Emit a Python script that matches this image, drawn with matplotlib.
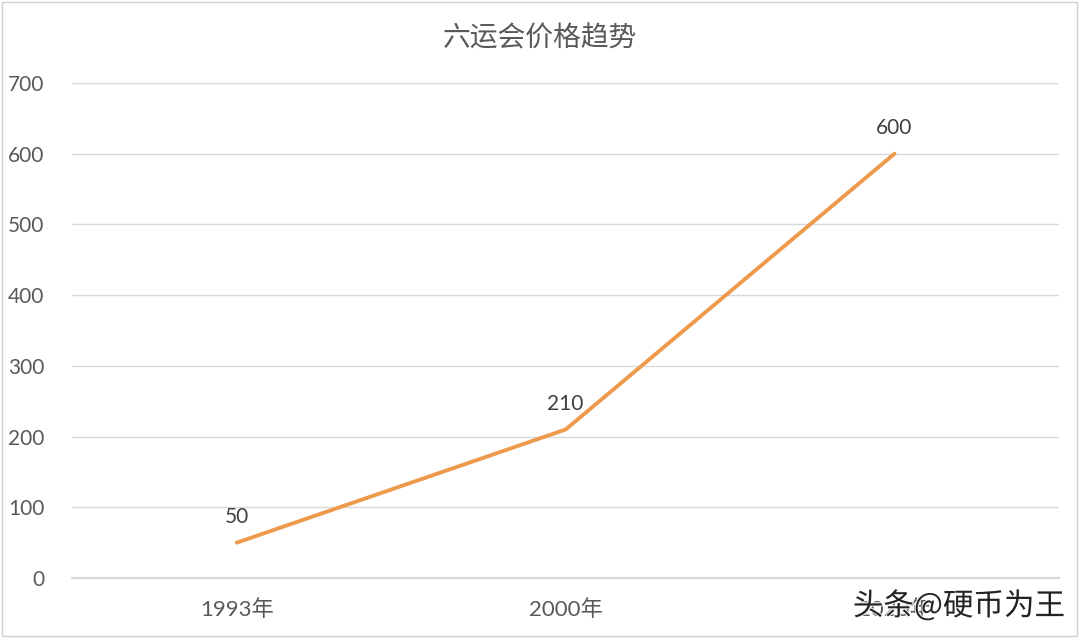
import matplotlib.pyplot as plt
import matplotlib.patheffects as pe
from matplotlib.patches import Rectangle

plt.rcParams['font.family'] = ['Lato', 'Noto Sans CJK SC', 'DejaVu Sans']

years = ["1993年", "2000年", "2020年"]
prices = [50, 210, 600]
yticks = [0, 100, 200, 300, 400, 500, 600, 700]

fig = plt.figure(figsize=(10.8, 6.38), dpi=100)
ax = fig.add_axes([0.067, 0.094, 0.9135, 0.776])

x = list(range(len(years)))
ax.plot(x, prices, color="#EE9A4D", linewidth=2.8, solid_capstyle="round", zorder=3)

for xi, v in zip(x, prices):
    ax.annotate(str(v), (xi, v), xytext=(0, 11), textcoords="offset points",
                ha="center", va="bottom", fontsize=15, color="#404040")

ax.set_xlim(-0.5, 2.5)
ax.set_ylim(0, 700)
ax.set_yticks(yticks)
ax.set_xticks(x)
ax.set_xticklabels(years)
ax.tick_params(axis="both", length=0, colors="#595959")
ax.tick_params(axis="y", pad=20, labelsize=15)
ax.tick_params(axis="x", pad=15, labelsize=16)
ax.grid(axis="y", color="#D9D9D9", linewidth=1)
ax.axhline(0, color="#D9D9D9", linewidth=1.5, clip_on=False, zorder=1)
ax.set_axisbelow(True)
for s in ax.spines.values():
    s.set_visible(False)

fig.text(0.5, 0.94, "六运会价格趋势", ha="center", va="center",
         fontsize=20, color="#595959", family=['Noto Sans CJK SC'])

# watermark over the last x label, as in the source image
fig.text(0.986, 0.05, "头条@硬币为王", ha="right", va="center", fontsize=22,
         color="#111111", alpha=0.9, family=['Noto Sans CJK SC'],
         path_effects=[pe.withStroke(linewidth=1.5, foreground="white")])

fig.patches.append(Rectangle((0.002, 0.003), 0.995, 0.994, transform=fig.transFigure,
                             fill=False, edgecolor="#D0D0D0", linewidth=1))

fig.savefig("out.png", dpi=100)
